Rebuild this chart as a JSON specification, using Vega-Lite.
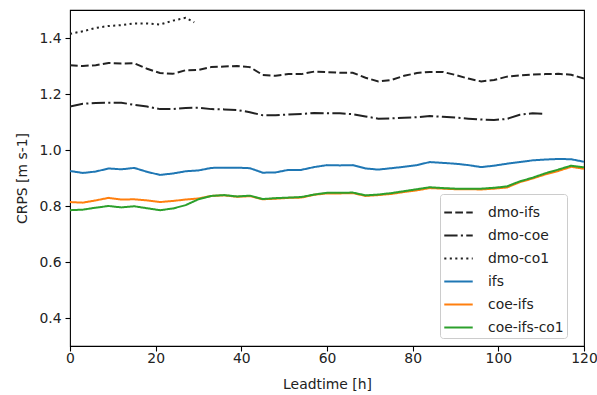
{
  "$schema": "https://vega.github.io/schema/vega-lite/v6.json",
  "width": 514,
  "height": 336,
  "autosize": {"type": "none"},
  "padding": {"left": 70, "top": 10, "right": 13, "bottom": 49},
  "background": "white",
  "config": {
    "font": "DejaVu Sans",
    "view": {"stroke": "#000000", "strokeWidth": 1.1},
    "axis": {
      "domain": false,
      "grid": false,
      "tickColor": "#000000",
      "tickSize": 5,
      "tickWidth": 1.1,
      "labelFont": "DejaVu Sans",
      "labelFontSize": 13.9,
      "labelColor": "#222222",
      "titleFont": "DejaVu Sans",
      "titleFontSize": 13.9,
      "titleFontWeight": "normal",
      "titleColor": "#222222"
    },
    "legend": {
      "labelFont": "DejaVu Sans",
      "labelFontSize": 13.9,
      "labelColor": "#222222"
    }
  },
  "data": {
    "values": [
      {"t":0,"s":"dmo-ifs","v":1.303},{"t":3,"s":"dmo-ifs","v":1.300},{"t":6,"s":"dmo-ifs","v":1.303},{"t":9,"s":"dmo-ifs","v":1.311},{"t":12,"s":"dmo-ifs","v":1.309},{"t":15,"s":"dmo-ifs","v":1.310},{"t":18,"s":"dmo-ifs","v":1.290},{"t":21,"s":"dmo-ifs","v":1.275},{"t":24,"s":"dmo-ifs","v":1.272},{"t":27,"s":"dmo-ifs","v":1.285},{"t":30,"s":"dmo-ifs","v":1.286},{"t":33,"s":"dmo-ifs","v":1.296},{"t":36,"s":"dmo-ifs","v":1.298},{"t":39,"s":"dmo-ifs","v":1.300},{"t":42,"s":"dmo-ifs","v":1.296},{"t":45,"s":"dmo-ifs","v":1.268},{"t":48,"s":"dmo-ifs","v":1.265},{"t":51,"s":"dmo-ifs","v":1.271},{"t":54,"s":"dmo-ifs","v":1.271},{"t":57,"s":"dmo-ifs","v":1.280},{"t":60,"s":"dmo-ifs","v":1.278},{"t":63,"s":"dmo-ifs","v":1.276},{"t":66,"s":"dmo-ifs","v":1.276},{"t":69,"s":"dmo-ifs","v":1.258},{"t":72,"s":"dmo-ifs","v":1.245},{"t":75,"s":"dmo-ifs","v":1.250},{"t":78,"s":"dmo-ifs","v":1.265},{"t":81,"s":"dmo-ifs","v":1.275},{"t":84,"s":"dmo-ifs","v":1.279},{"t":87,"s":"dmo-ifs","v":1.279},{"t":90,"s":"dmo-ifs","v":1.268},{"t":93,"s":"dmo-ifs","v":1.255},{"t":96,"s":"dmo-ifs","v":1.245},{"t":99,"s":"dmo-ifs","v":1.250},{"t":102,"s":"dmo-ifs","v":1.262},{"t":105,"s":"dmo-ifs","v":1.266},{"t":108,"s":"dmo-ifs","v":1.270},{"t":111,"s":"dmo-ifs","v":1.271},{"t":114,"s":"dmo-ifs","v":1.272},{"t":117,"s":"dmo-ifs","v":1.269},{"t":120,"s":"dmo-ifs","v":1.255},
      {"t":0,"s":"dmo-coe","v":1.155},{"t":3,"s":"dmo-coe","v":1.165},{"t":6,"s":"dmo-coe","v":1.168},{"t":9,"s":"dmo-coe","v":1.169},{"t":12,"s":"dmo-coe","v":1.169},{"t":15,"s":"dmo-coe","v":1.161},{"t":18,"s":"dmo-coe","v":1.155},{"t":21,"s":"dmo-coe","v":1.146},{"t":24,"s":"dmo-coe","v":1.146},{"t":27,"s":"dmo-coe","v":1.150},{"t":30,"s":"dmo-coe","v":1.151},{"t":33,"s":"dmo-coe","v":1.146},{"t":36,"s":"dmo-coe","v":1.145},{"t":39,"s":"dmo-coe","v":1.143},{"t":42,"s":"dmo-coe","v":1.135},{"t":45,"s":"dmo-coe","v":1.124},{"t":48,"s":"dmo-coe","v":1.124},{"t":51,"s":"dmo-coe","v":1.127},{"t":54,"s":"dmo-coe","v":1.129},{"t":57,"s":"dmo-coe","v":1.132},{"t":60,"s":"dmo-coe","v":1.131},{"t":63,"s":"dmo-coe","v":1.131},{"t":66,"s":"dmo-coe","v":1.128},{"t":69,"s":"dmo-coe","v":1.120},{"t":72,"s":"dmo-coe","v":1.112},{"t":75,"s":"dmo-coe","v":1.113},{"t":78,"s":"dmo-coe","v":1.115},{"t":81,"s":"dmo-coe","v":1.117},{"t":84,"s":"dmo-coe","v":1.121},{"t":87,"s":"dmo-coe","v":1.119},{"t":90,"s":"dmo-coe","v":1.116},{"t":93,"s":"dmo-coe","v":1.112},{"t":96,"s":"dmo-coe","v":1.109},{"t":99,"s":"dmo-coe","v":1.107},{"t":102,"s":"dmo-coe","v":1.111},{"t":105,"s":"dmo-coe","v":1.126},{"t":108,"s":"dmo-coe","v":1.131},{"t":111,"s":"dmo-coe","v":1.129},
      {"t":0,"s":"dmo-co1","v":1.415},{"t":3,"s":"dmo-co1","v":1.424},{"t":6,"s":"dmo-co1","v":1.436},{"t":9,"s":"dmo-co1","v":1.443},{"t":12,"s":"dmo-co1","v":1.446},{"t":15,"s":"dmo-co1","v":1.452},{"t":18,"s":"dmo-co1","v":1.452},{"t":21,"s":"dmo-co1","v":1.448},{"t":24,"s":"dmo-co1","v":1.462},{"t":27,"s":"dmo-co1","v":1.472},{"t":29,"s":"dmo-co1","v":1.456},
      {"t":0,"s":"ifs","v":0.925},{"t":3,"s":"ifs","v":0.918},{"t":6,"s":"ifs","v":0.923},{"t":9,"s":"ifs","v":0.934},{"t":12,"s":"ifs","v":0.931},{"t":15,"s":"ifs","v":0.936},{"t":18,"s":"ifs","v":0.922},{"t":21,"s":"ifs","v":0.911},{"t":24,"s":"ifs","v":0.916},{"t":27,"s":"ifs","v":0.924},{"t":30,"s":"ifs","v":0.927},{"t":33,"s":"ifs","v":0.936},{"t":36,"s":"ifs","v":0.937},{"t":39,"s":"ifs","v":0.937},{"t":42,"s":"ifs","v":0.935},{"t":45,"s":"ifs","v":0.919},{"t":48,"s":"ifs","v":0.920},{"t":51,"s":"ifs","v":0.929},{"t":54,"s":"ifs","v":0.929},{"t":57,"s":"ifs","v":0.939},{"t":60,"s":"ifs","v":0.946},{"t":63,"s":"ifs","v":0.945},{"t":66,"s":"ifs","v":0.946},{"t":69,"s":"ifs","v":0.934},{"t":72,"s":"ifs","v":0.930},{"t":75,"s":"ifs","v":0.935},{"t":78,"s":"ifs","v":0.940},{"t":81,"s":"ifs","v":0.946},{"t":84,"s":"ifs","v":0.957},{"t":87,"s":"ifs","v":0.954},{"t":90,"s":"ifs","v":0.951},{"t":93,"s":"ifs","v":0.946},{"t":96,"s":"ifs","v":0.939},{"t":99,"s":"ifs","v":0.944},{"t":102,"s":"ifs","v":0.951},{"t":105,"s":"ifs","v":0.957},{"t":108,"s":"ifs","v":0.963},{"t":111,"s":"ifs","v":0.966},{"t":114,"s":"ifs","v":0.968},{"t":117,"s":"ifs","v":0.967},{"t":120,"s":"ifs","v":0.958},
      {"t":0,"s":"coe-ifs","v":0.814},{"t":3,"s":"coe-ifs","v":0.812},{"t":6,"s":"coe-ifs","v":0.820},{"t":9,"s":"coe-ifs","v":0.829},{"t":12,"s":"coe-ifs","v":0.823},{"t":15,"s":"coe-ifs","v":0.824},{"t":18,"s":"coe-ifs","v":0.820},{"t":21,"s":"coe-ifs","v":0.814},{"t":24,"s":"coe-ifs","v":0.818},{"t":27,"s":"coe-ifs","v":0.823},{"t":30,"s":"coe-ifs","v":0.827},{"t":33,"s":"coe-ifs","v":0.836},{"t":36,"s":"coe-ifs","v":0.838},{"t":39,"s":"coe-ifs","v":0.833},{"t":42,"s":"coe-ifs","v":0.835},{"t":45,"s":"coe-ifs","v":0.824},{"t":48,"s":"coe-ifs","v":0.826},{"t":51,"s":"coe-ifs","v":0.829},{"t":54,"s":"coe-ifs","v":0.830},{"t":57,"s":"coe-ifs","v":0.840},{"t":60,"s":"coe-ifs","v":0.845},{"t":63,"s":"coe-ifs","v":0.845},{"t":66,"s":"coe-ifs","v":0.846},{"t":69,"s":"coe-ifs","v":0.836},{"t":72,"s":"coe-ifs","v":0.839},{"t":75,"s":"coe-ifs","v":0.843},{"t":78,"s":"coe-ifs","v":0.850},{"t":81,"s":"coe-ifs","v":0.856},{"t":84,"s":"coe-ifs","v":0.864},{"t":87,"s":"coe-ifs","v":0.862},{"t":90,"s":"coe-ifs","v":0.860},{"t":93,"s":"coe-ifs","v":0.860},{"t":96,"s":"coe-ifs","v":0.859},{"t":99,"s":"coe-ifs","v":0.862},{"t":102,"s":"coe-ifs","v":0.866},{"t":105,"s":"coe-ifs","v":0.885},{"t":108,"s":"coe-ifs","v":0.898},{"t":111,"s":"coe-ifs","v":0.913},{"t":114,"s":"coe-ifs","v":0.925},{"t":117,"s":"coe-ifs","v":0.940},{"t":120,"s":"coe-ifs","v":0.933},
      {"t":0,"s":"coe-ifs-co1","v":0.785},{"t":3,"s":"coe-ifs-co1","v":0.787},{"t":6,"s":"coe-ifs-co1","v":0.794},{"t":9,"s":"coe-ifs-co1","v":0.800},{"t":12,"s":"coe-ifs-co1","v":0.795},{"t":15,"s":"coe-ifs-co1","v":0.799},{"t":18,"s":"coe-ifs-co1","v":0.792},{"t":21,"s":"coe-ifs-co1","v":0.785},{"t":24,"s":"coe-ifs-co1","v":0.791},{"t":27,"s":"coe-ifs-co1","v":0.803},{"t":30,"s":"coe-ifs-co1","v":0.824},{"t":33,"s":"coe-ifs-co1","v":0.836},{"t":36,"s":"coe-ifs-co1","v":0.839},{"t":39,"s":"coe-ifs-co1","v":0.834},{"t":42,"s":"coe-ifs-co1","v":0.837},{"t":45,"s":"coe-ifs-co1","v":0.825},{"t":48,"s":"coe-ifs-co1","v":0.828},{"t":51,"s":"coe-ifs-co1","v":0.830},{"t":54,"s":"coe-ifs-co1","v":0.832},{"t":57,"s":"coe-ifs-co1","v":0.841},{"t":60,"s":"coe-ifs-co1","v":0.847},{"t":63,"s":"coe-ifs-co1","v":0.847},{"t":66,"s":"coe-ifs-co1","v":0.848},{"t":69,"s":"coe-ifs-co1","v":0.838},{"t":72,"s":"coe-ifs-co1","v":0.841},{"t":75,"s":"coe-ifs-co1","v":0.846},{"t":78,"s":"coe-ifs-co1","v":0.853},{"t":81,"s":"coe-ifs-co1","v":0.860},{"t":84,"s":"coe-ifs-co1","v":0.867},{"t":87,"s":"coe-ifs-co1","v":0.864},{"t":90,"s":"coe-ifs-co1","v":0.862},{"t":93,"s":"coe-ifs-co1","v":0.862},{"t":96,"s":"coe-ifs-co1","v":0.862},{"t":99,"s":"coe-ifs-co1","v":0.865},{"t":102,"s":"coe-ifs-co1","v":0.870},{"t":105,"s":"coe-ifs-co1","v":0.888},{"t":108,"s":"coe-ifs-co1","v":0.901},{"t":111,"s":"coe-ifs-co1","v":0.917},{"t":114,"s":"coe-ifs-co1","v":0.930},{"t":117,"s":"coe-ifs-co1","v":0.944},{"t":120,"s":"coe-ifs-co1","v":0.938}
    ]
  },
  "mark": {"type": "line", "strokeWidth": 2, "clip": true},
  "encoding": {
    "x": {
      "field": "t", "type": "quantitative",
      "scale": {"domain": [0, 120], "nice": false, "zero": false},
      "axis": {"values": [0, 20, 40, 60, 80, 100, 120], "labelPadding": 0, "title": "Leadtime [h]", "titlePadding": 13, "labelFlush": false}
    },
    "y": {
      "field": "v", "type": "quantitative",
      "scale": {"domain": [0.3, 1.5], "nice": false, "zero": false},
      "axis": {"values": [0.4, 0.6, 0.8, 1.0, 1.2, 1.4], "format": ".1f", "labelPadding": 4, "title": "CRPS [m s-1]", "titlePadding": 9, "labelFlush": false}
    },
    "color": {
      "field": "s", "type": "nominal",
      "scale": {
        "domain": ["dmo-ifs", "dmo-coe", "dmo-co1", "ifs", "coe-ifs", "coe-ifs-co1"],
        "range": ["#222222", "#222222", "#222222", "#1f77b4", "#ff7f0e", "#2ca02c"]
      },
      "legend": {
        "title": null,
        "orient": "none",
        "legendX": 370,
        "legendY": 184,
        "symbolType": "stroke",
        "symbolSize": 810,
        "symbolStrokeWidth": 2,
        "strokeColor": "#cccccc",
        "fillColor": "#ffffff",
        "cornerRadius": 3,
        "padding": 3,
        "rowPadding": 0,
        "labelOffset": 14
      }
    },
    "strokeDash": {
      "field": "s", "type": "nominal",
      "scale": {
        "domain": ["dmo-ifs", "dmo-coe", "dmo-co1", "ifs", "coe-ifs", "coe-ifs-co1"],
        "range": [[7.7, 3.3], [13.3, 3.3, 2.1, 3.3], [2.1, 3.4], [1, 0], [1, 0], [1, 0]]
      },
      "legend": {
        "title": null,
        "orient": "none",
        "legendX": 370,
        "legendY": 184,
        "symbolType": "stroke",
        "symbolSize": 810,
        "symbolStrokeWidth": 2,
        "strokeColor": "#cccccc",
        "fillColor": "#ffffff",
        "cornerRadius": 3,
        "padding": 3,
        "rowPadding": 0,
        "labelOffset": 14
      }
    }
  }
}
